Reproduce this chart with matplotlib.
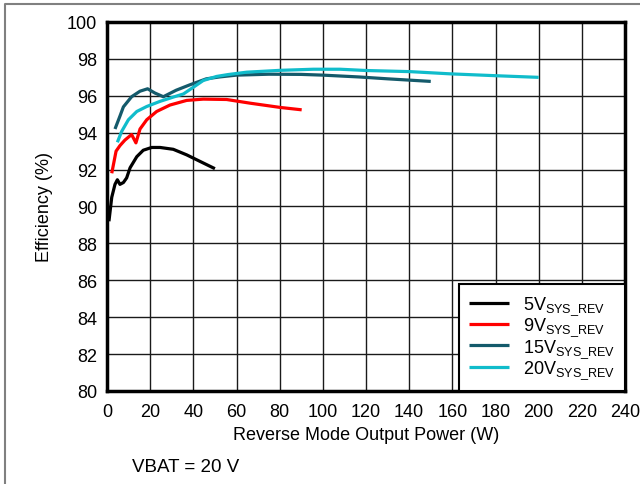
import matplotlib
matplotlib.use("Agg")
import matplotlib.pyplot as plt
from matplotlib.lines import Line2D

plt.rcParams['font.family'] = ['Liberation Sans', 'DejaVu Sans']
plt.rcParams['mathtext.fontset'] = 'custom'
plt.rcParams['mathtext.rm'] = 'Liberation Sans'

# Data (Output power W, Efficiency %)
p5 = [0.9, 2.2, 3.7, 4.8, 6.0, 7.6, 9.1, 10.7, 13.8, 16.8, 20.7, 24.6, 30.7, 36.9, 43.0, 50.0]
e5 = [89.2, 90.5, 91.2, 91.45, 91.2, 91.3, 91.55, 92.1, 92.7, 93.05, 93.2, 93.2, 93.1, 92.8, 92.45, 92.05]

p9 = [2.2, 4.2, 6.0, 8.3, 11.4, 13.4, 15.3, 18.4, 23.0, 29.2, 36.9, 44.6, 55.4, 66.3, 80.2, 90.2]
e9 = [91.8, 93.0, 93.3, 93.6, 93.9, 93.45, 94.2, 94.7, 95.15, 95.5, 95.75, 95.82, 95.8, 95.6, 95.37, 95.24]

p15 = [3.7, 6.0, 7.6, 11.4, 15.3, 18.8, 22.2, 26.1, 32.0, 38.5, 46.0, 52.0, 60.0, 75.0, 90.0, 100.0, 117.0, 130.0, 150.0]
e15 = [94.2, 94.9, 95.4, 95.95, 96.25, 96.38, 96.15, 95.95, 96.3, 96.6, 96.92, 97.02, 97.12, 97.17, 97.16, 97.12, 97.02, 96.92, 96.78]

p20 = [4.8, 6.8, 9.9, 13.8, 18.4, 24.6, 30.7, 35.4, 39.2, 44.6, 50.8, 56.0, 64.7, 80.2, 95.6, 108.0, 120.3, 140.4, 159.0, 182.0, 200.0]
e20 = [93.48, 94.07, 94.7, 95.15, 95.42, 95.7, 95.93, 96.1, 96.4, 96.83, 97.05, 97.15, 97.28, 97.38, 97.44, 97.44, 97.37, 97.31, 97.19, 97.08, 97.0]

labels = ['5V$_{\\mathregular{SYS\\_REV}}$', '9V$_{\\mathregular{SYS\\_REV}}$',
          '15V$_{\\mathregular{SYS\\_REV}}$', '20V$_{\\mathregular{SYS\\_REV}}$']
colors = ['#000000', '#ff0000', '#145a6b', '#10bccb']

xticks = list(range(0, 241, 20))
yticks = list(range(80, 101, 2))

fig = plt.figure(figsize=(6.4, 4.85), dpi=100)
ax = fig.add_axes([107/640, 1-392/485, 518/640, 369/485])

for (px, ey), lab, c in zip([(p5, e5), (p9, e9), (p15, e15), (p20, e20)], labels, colors):
    ax.plot(px, ey, color=c, lw=2.3, label=lab, solid_capstyle='butt')

ax.set_xlim(0, 240)
ax.set_ylim(80, 100)
ax.set_xticks(xticks)
ax.set_yticks(yticks)
ax.grid(True, color='#1a1a1a', lw=1.0)
ax.set_axisbelow(True)
ax.tick_params(length=0, labelsize=13)
ax.tick_params(axis='x', pad=9)
ax.tick_params(axis='y', pad=7)
for s in ax.spines.values():
    s.set_linewidth(2.5)
ax.set_xlabel('Reverse Mode Output Power (W)', fontsize=13, labelpad=4)
ax.set_ylabel('Efficiency (%)', fontsize=13, labelpad=10)

leg = ax.legend(loc='lower right', borderaxespad=0, fancybox=False, framealpha=1,
                edgecolor='black', fontsize=13, handlelength=2.25, labelspacing=-0.05,
                borderpad=0.55, handletextpad=0.75)
leg.get_frame().set_linewidth(1.5)

fig.text(132/640, 1-468/485, 'VBAT = 20 V', fontsize=13.5, va='center', ha='left')

fig.add_artist(Line2D([4.5/640, 4.5/640, 1.0], [0.0, 1-5/485, 1-5/485],
                      transform=fig.transFigure, color='#808080', lw=1.5))

fig.savefig('out.png', dpi=100)
